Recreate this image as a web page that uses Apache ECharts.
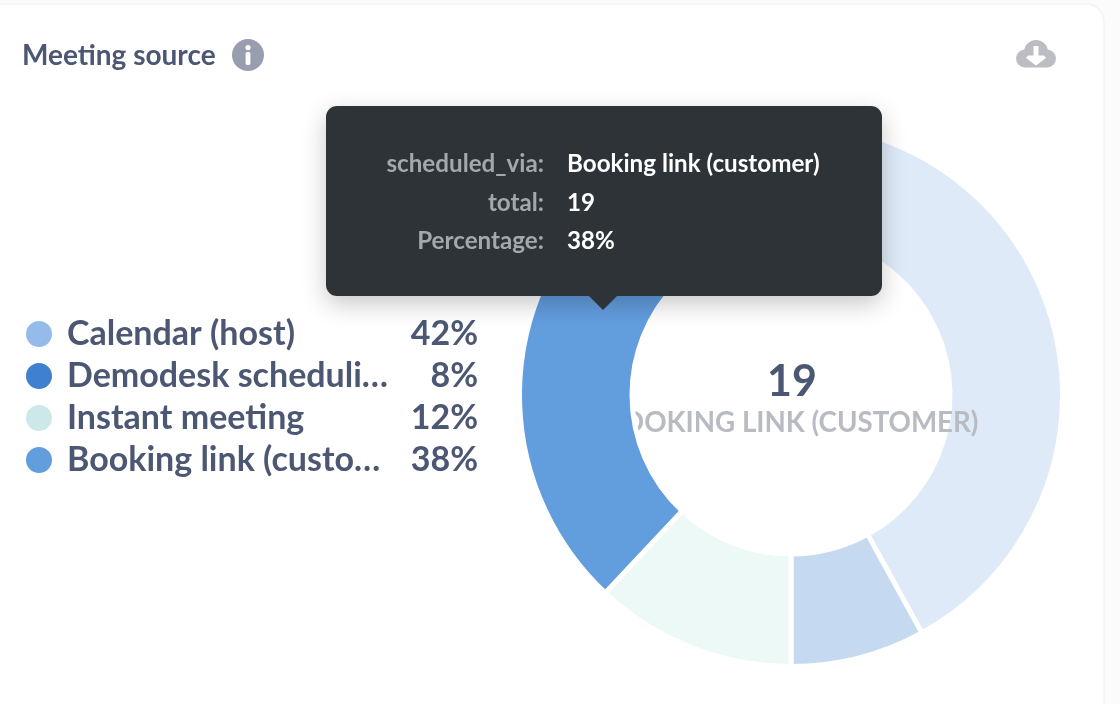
<!DOCTYPE html>
<html><head><meta charset="utf-8">
<style>html,body{margin:0;padding:0;background:#fbfbfb}#c{width:1120px;height:704px}</style>
<script src="https://cdn.jsdelivr.net/npm/echarts@6/dist/echarts.min.js"></script>
</head><body><div id="c"></div>
<script>
const categories = ['Calendar (host)', 'Demodesk scheduling page', 'Instant meeting', 'Booking link (customer)'];
const legendLabels = ['Calendar (host)', 'Demodesk scheduli…', 'Instant meeting', 'Booking link (custo…'];
const totals = [21, 4, 6, 19];
const percentLabels = ['42%', '8%', '12%', '38%'];
const solidColors = ['#94BBE9', '#3F80CF', '#CDE8E8', '#629DDE'];
const fadedColors = ['rgba(148,187,233,0.31)', 'rgba(63,128,207,0.30)', 'rgba(200,236,230,0.32)', '#629DDE'];
const activeIndex = 3;
const tooltipKeys = ['scheduled_via:', 'total:', 'Percentage:'];
const tooltipValues = ['Booking link (customer)', '19', '38%'];
const titleText = 'Meeting source';

const FONT = 'Lato';
const INK = '#4C5773';
const chart = echarts.init(document.getElementById('c'), null, {renderer: 'canvas'});
const slotCenter = [791, 395];
const radius = [159, 271.5];

const rowY = [164, 203, 241.5];
const tooltipGraphics = [
  {type:'rect', z:100, shape:{x:326,y:106,width:556,height:190,r:11},
   style:{fill:'#2E3338',shadowBlur:24,shadowOffsetY:8,shadowColor:'rgba(0,0,0,0.22)'}},
  {type:'polygon', z:100, shape:{points:[[588,295],[618,295],[603,310]]}, style:{fill:'#2E3338'}}
];
tooltipKeys.forEach((k,i)=>{
  tooltipGraphics.push({type:'text', z:101, x:544, y:rowY[i],
    style:{text:k,font:'700 24.2px '+FONT,fill:'#A4A8AC',textAlign:'right',textVerticalAlign:'middle'}});
  tooltipGraphics.push({type:'text', z:101, x:567, y:rowY[i],
    style:{text:tooltipValues[i],font:'700 24.2px '+FONT,fill:'#FFFFFF',textAlign:'left',textVerticalAlign:'middle'}});
});

chart.setOption({
  animation:false,
  backgroundColor:'transparent',
  title:[
    {text:titleText,left:22,top:40,z:20,padding:0,textStyle:{fontFamily:FONT,fontSize:28,fontWeight:700,color:INK,lineHeight:32}},
    {text:String(totals[activeIndex]),left:792,top:358,textAlign:'center',z:2,padding:0,textStyle:{fontFamily:FONT,fontSize:43,fontWeight:700,color:INK,lineHeight:48}},
    {text:categories[activeIndex].toUpperCase(),left:791,top:407,textAlign:'center',z:2,padding:0,textStyle:{fontFamily:FONT,fontSize:27.7,fontWeight:700,color:'#B9BBC2',lineHeight:32}}
  ],
  legend:{
    orient:'vertical',left:24,top:317,itemWidth:28,itemHeight:28,itemGap:8,icon:'circle',selectedMode:false,padding:0,
    data:categories.map((n,i)=>({name:n,itemStyle:{color:solidColors[i]}})),
    formatter:n=>{const i=categories.indexOf(n);return '{n|'+legendLabels[i]+'}{p|'+percentLabels[i]+'}';},
    textStyle:{rich:{
      n:{fontFamily:FONT,fontSize:34,fontWeight:700,color:INK,width:322,padding:[0,0,0,9],lineHeight:30},
      p:{fontFamily:FONT,fontSize:34,fontWeight:700,color:INK,width:89,align:'right',lineHeight:30}
    }}
  },
  series:[
    {type:'pie',z:1,center:slotCenter,radius:radius,startAngle:90,clockwise:true,silent:true,label:{show:false},labelLine:{show:false},
     itemStyle:{borderColor:'#fff',borderWidth:5},
     data:categories.map((n,i)=>({name:n,value:totals[i],itemStyle:{color:fadedColors[i]}}))},
    {type:'pie',z:3,center:slotCenter,radius:radius,startAngle:90,clockwise:true,silent:true,label:{show:false},labelLine:{show:false},
     data:categories.map((n,i)=>({name:n,value:totals[i],itemStyle:i===activeIndex
        ?{color:fadedColors[i],borderColor:'#fff',borderWidth:5}
        :{color:'rgba(0,0,0,0)',borderColor:'rgba(0,0,0,0)',borderWidth:0}}))}
  ],
  graphic:{elements:[
    {type:'rect',z:-10,shape:{x:-30,y:4,width:1134,height:730,r:18},style:{fill:'#FFFFFF',stroke:'#F3F3F3',lineWidth:1.5}},
    {type:'circle',z:20,shape:{cx:248,cy:55,r:16},style:{fill:'#999DB0'}},
    {type:'circle',z:21,shape:{cx:248,cy:47.5,r:2.6},style:{fill:'#FFFFFF'}},
    {type:'rect',z:21,shape:{x:245.6,y:52,width:4.8,height:13,r:1.5},style:{fill:'#FFFFFF'}},
    {type:'circle',z:20,shape:{cx:1036,cy:52,r:12},style:{fill:'#BCBDC2'}},
    {type:'circle',z:20,shape:{cx:1025,cy:58.5,r:9},style:{fill:'#BCBDC2'}},
    {type:'circle',z:20,shape:{cx:1047,cy:58.5,r:9},style:{fill:'#BCBDC2'}},
    {type:'rect',z:20,shape:{x:1025,y:52,width:22,height:15.5},style:{fill:'#BCBDC2'}},
    {type:'polygon',z:21,shape:{points:[[1033.5,46],[1038.5,46],[1038.5,55.5],[1044,55.5],[1046,58],[1036,65.5],[1026,58],[1028,55.5],[1033.5,55.5]]},style:{fill:'#FFFFFF'}},
    ...tooltipGraphics
  ]}
});
</script></body></html>
